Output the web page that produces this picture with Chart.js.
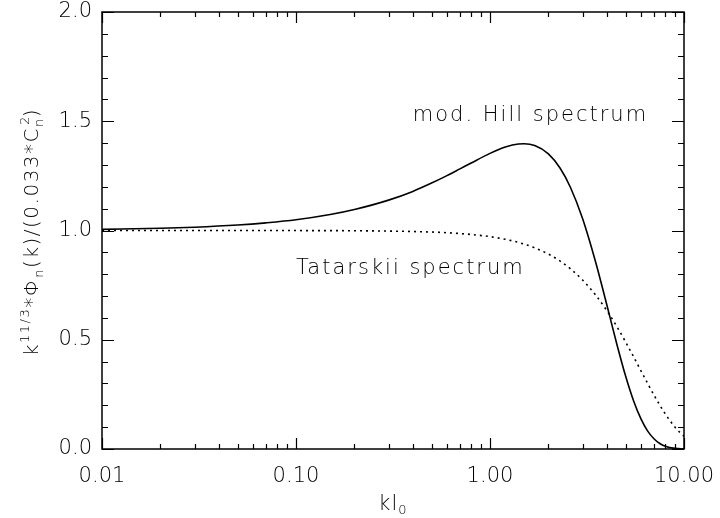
<!DOCTYPE html>
<html>
<head>
<meta charset="utf-8">
<script src="https://cdn.jsdelivr.net/npm/chart.js@4"></script>
<style>
  html, body { margin: 0; padding: 0; background: #fff; }
  canvas { display: block; }
</style>
</head>
<body>
<canvas id="c" width="720" height="518"></canvas>
<script>
// ---- data ----
const kl0 = [0.01,0.02,0.03,0.05,0.07,0.1,0.15,0.2,0.3,0.4,0.5,0.6,0.7,0.8,1.0,1.2,1.4,1.5,1.7,2.0,2.3,2.6,3.0,3.5,4.0,4.5,5.0,5.5,6.0,6.5,7.0,7.5,8.0,9.0,10.0];
const modHill = [1.005,1.010,1.015,1.025,1.035,1.049,1.073,1.096,1.139,1.179,1.217,1.251,1.282,1.309,1.353,1.382,1.396,1.397,1.389,1.351,1.285,1.197,1.055,0.857,0.660,0.482,0.334,0.220,0.138,0.082,0.047,0.025,0.013,0.003,0.001];
const tatarskii = [1.000,1.000,1.000,1.000,1.000,0.9997,0.9994,0.9989,0.9974,0.9954,0.9929,0.9898,0.9861,0.9819,0.9719,0.9597,0.9456,0.9378,0.9208,0.8921,0.8599,0.8246,0.7735,0.7050,0.6335,0.5612,0.4900,0.4218,0.3580,0.2995,0.2471,0.2009,0.1610,0.0991,0.0577];
const xTickValues = [0.01, 0.1, 1, 10];
const xTickLabels = ['0.01', '0.10', '1.00', '10.00'];
const yTickValues = [0, 0.5, 1.0, 1.5, 2.0];
const yTickLabels = ['0.0', '0.5', '1.0', '1.5', '2.0'];
const seriesNames = ['mod. Hill spectrum', 'Tatarskii spectrum'];
const seriesLabelPos = [[0.40, 1.50], [0.10, 0.80]];

const FONT = '"DejaVu Sans", sans-serif';
const W = '200';
const TXT = '#000';

const frame = {
  id: 'frame',
  afterDraw(chart) {
    const ctx = chart.ctx, a = chart.chartArea;
    const xs = chart.scales.x, ys = chart.scales.y;
    ctx.save();
    ctx.strokeStyle = '#000';
    ctx.lineWidth = 1.5;
    ctx.strokeRect(a.left, a.top, a.right - a.left, a.bottom - a.top);
    ctx.lineWidth = 1.2;
    ctx.beginPath();
    const xMinor = [];
    for (let d = 0; d < xTickValues.length - 1; d++)
      for (let m = 2; m <= 9; m++) xMinor.push(xTickValues[d] * m);
    const xt = xTickValues.map(v => [v, 11]).concat(xMinor.map(v => [v, 5]));
    xt.forEach(([v, L]) => {
      const px = Math.round(xs.getPixelForValue(v)) + 0.5;
      ctx.moveTo(px, a.bottom); ctx.lineTo(px, a.bottom - L);
      ctx.moveTo(px, a.top); ctx.lineTo(px, a.top + L);
    });
    for (let i = 0; i <= 20; i++) {
      const v = i / 10;
      const L = (i % 5 === 0) ? 12 : 6;
      const py = Math.round(ys.getPixelForValue(v)) + 0.5;
      ctx.moveTo(a.left, py); ctx.lineTo(a.left + L, py);
      ctx.moveTo(a.right, py); ctx.lineTo(a.right - L, py);
    }
    ctx.stroke();

    ctx.fillStyle = TXT;
    ctx.font = W + ' 21px ' + FONT;
    ctx.letterSpacing = '2px';
    ctx.textBaseline = 'alphabetic';
    ctx.textAlign = 'left';
    seriesNames.forEach((n, i) => {
      const p = seriesLabelPos[i];
      ctx.fillText(n, xs.getPixelForValue(p[0]), ys.getPixelForValue(p[1]));
    });

    ctx.letterSpacing = '1px';
    const xc = (a.left + a.right) / 2;
    ctx.font = W + ' 21px ' + FONT;
    const w1 = ctx.measureText('kl').width;
    ctx.font = W + ' 13px ' + FONT;
    const w2 = ctx.measureText('0').width;
    let sx = xc - (w1 + w2) / 2;
    ctx.font = W + ' 21px ' + FONT;
    ctx.fillText('kl', sx, 510);
    ctx.font = W + ' 13px ' + FONT;
    ctx.fillText('0', sx + w1, 514);

    ctx.letterSpacing = '1.5px';
    const runs = [
      ['k', 20, 0], ['11/3', 13, 9], ['*Φ', 20, 0], ['n', 13, -5],
      ['(k)/(0.033*C', 20, 0], [['n', '2'], 13, 0], [')', 20, 0]
    ];
    const wOf = r => {
      ctx.font = W + ' ' + r[1] + 'px ' + FONT;
      if (Array.isArray(r[0])) return Math.max(ctx.measureText(r[0][0]).width, ctx.measureText(r[0][1]).width);
      return ctx.measureText(r[0]).width;
    };
    const total = runs.reduce((s, r) => s + wOf(r), 0);
    ctx.translate(38, 232);
    ctx.rotate(-Math.PI / 2);
    let cx = -total / 2;
    runs.forEach(r => {
      const w = wOf(r);
      ctx.font = W + ' ' + r[1] + 'px ' + FONT;
      if (Array.isArray(r[0])) {
        ctx.fillText(r[0][0], cx, 5);
        ctx.fillText(r[0][1], cx + 2, -9);
      } else {
        ctx.fillText(r[0], cx, -r[2]);
      }
      cx += w;
    });
    ctx.restore();
  }
};

new Chart(document.getElementById('c'), {
  type: 'line',
  data: {
    datasets: [
      {
        label: seriesNames[0],
        data: kl0.map((x, i) => ({ x: x, y: modHill[i] })),
        borderColor: '#000', borderWidth: 1.6,
        pointRadius: 0, fill: false, cubicInterpolationMode: 'monotone'
      },
      {
        label: seriesNames[1],
        data: kl0.map((x, i) => ({ x: x, y: tatarskii[i] })),
        borderColor: '#000', borderWidth: 1.6, borderDash: [2, 4],
        pointRadius: 0, fill: false, cubicInterpolationMode: 'monotone'
      }
    ]
  },
  options: {
    responsive: false,
    animation: false,
    devicePixelRatio: 1,
    layout: { padding: { left: 0, right: 36, top: 12, bottom: 0 } },
    plugins: { legend: { display: false }, tooltip: { enabled: false } },
    scales: {
      x: {
        type: 'logarithmic', min: 0.01, max: 10,
        grid: { display: false, drawTicks: false },
        border: { display: false },
        afterBuildTicks: s => { s.ticks = xTickValues.map(v => ({ value: v, major: true })); },
        afterFit: s => { s.height = 69; s.paddingLeft = 0; s.paddingRight = 0; },
        ticks: {
          padding: 15, maxRotation: 0, autoSkip: false,
          font: { family: FONT, size: 21, weight: W }, color: TXT,
          callback: (v, i) => xTickLabels[i]
        }
      },
      y: {
        type: 'linear', min: 0, max: 2,
        grid: { display: false, drawTicks: false },
        border: { display: false },
        afterBuildTicks: s => { s.ticks = yTickValues.map(v => ({ value: v })); },
        afterFit: s => { s.width = 102; s.paddingTop = 0; s.paddingBottom = 0; },
        ticks: {
          padding: 10,
          font: { family: FONT, size: 21, weight: W }, color: TXT,
          callback: (v, i) => yTickLabels[i]
        }
      }
    }
  },
  plugins: [frame]
});
</script>
</body>
</html>
